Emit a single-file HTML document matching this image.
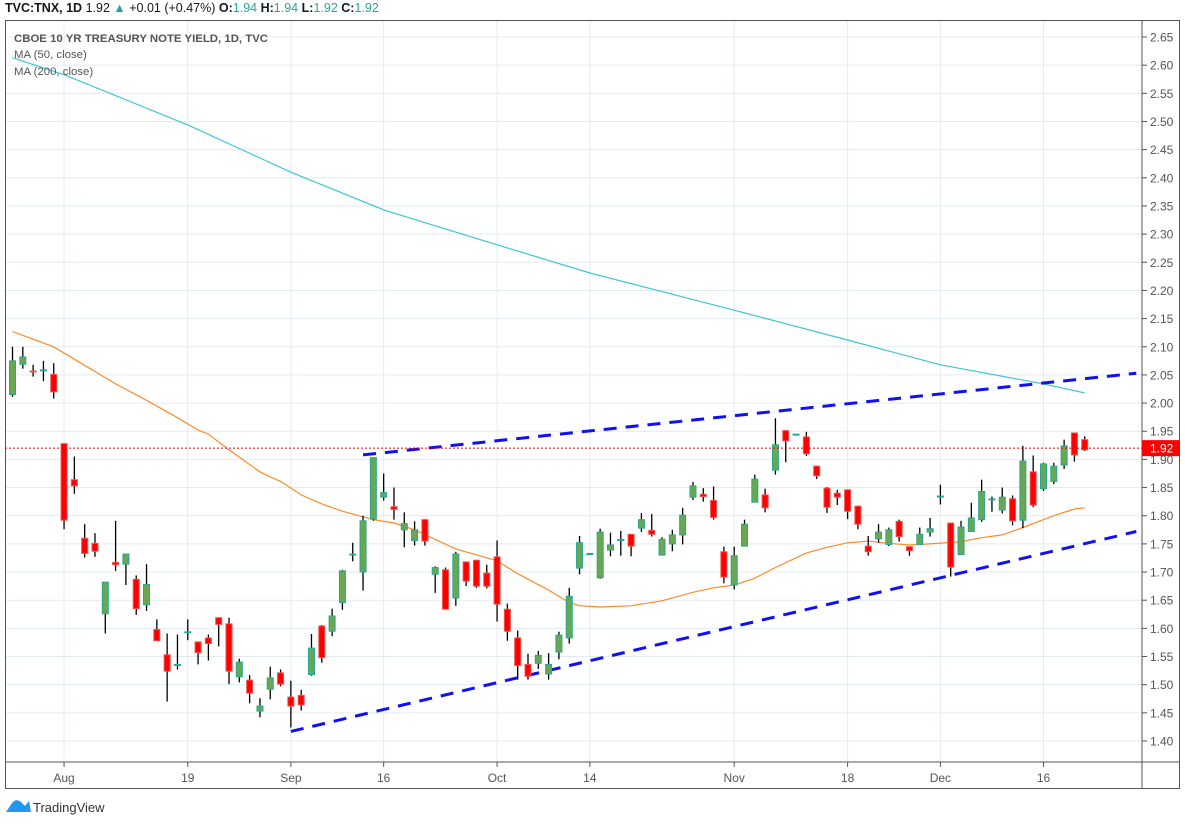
<!DOCTYPE html>
<html><head><meta charset="utf-8"><style>
body{margin:0;background:#fff;}
svg{display:block;font-family:"Liberation Sans",sans-serif;}
</style></head><body>
<svg id="chart" width="1185" height="824" viewBox="0 0 1185 824">
  <g id="grid"></g>
  <g id="mas"></g>
  <g id="trend"></g>
  <g id="candles"></g>
  <g id="axes"></g>
  <g>
    <text x="5" y="12" font-size="12.5" fill="#131722"><tspan font-weight="bold">TVC:TNX, 1D</tspan> 1.92 <tspan fill="#26a69a">▲</tspan> +0.01 (+0.47%) <tspan font-weight="bold">O:</tspan><tspan fill="#26a69a">1.94</tspan> <tspan font-weight="bold">H:</tspan><tspan fill="#26a69a">1.94</tspan> <tspan font-weight="bold">L:</tspan><tspan fill="#26a69a">1.92</tspan> <tspan font-weight="bold">C:</tspan><tspan fill="#26a69a">1.92</tspan></text>
  </g>
  <g>
    <text x="14" y="42" font-size="11.4" font-weight="bold" fill="#555">CBOE 10 YR TREASURY NOTE YIELD, 1D, TVC</text>
    <text x="14" y="58" font-size="11.4" fill="#555">MA (50, close)</text>
    <text x="14" y="75" font-size="11.4" fill="#555">MA (200, close)</text>
  </g>
  <g>
    <path d="M6 812 L12 803 Q16 798 21 802 L25 806 L29 801 L31 812 Z" fill="#2196f3"/>
    <text x="33" y="812" font-size="13" fill="#333">TradingView</text>
  </g>
</svg>
<script>
const openV=[2.015,2.069,2.057,2.058,2.051,1.928,1.864,1.760,1.751,1.626,1.717,1.714,1.687,1.642,1.598,1.553,1.535,1.593,1.576,1.583,1.619,1.608,1.514,1.508,1.453,1.492,1.521,1.478,1.481,1.518,1.604,1.595,1.646,1.731,1.700,1.794,1.833,1.816,1.775,1.756,1.793,1.696,1.704,1.654,1.718,1.721,1.698,1.727,1.634,1.583,1.536,1.538,1.519,1.558,1.583,1.707,1.732,1.690,1.739,1.757,1.767,1.778,1.774,1.730,1.750,1.766,1.833,1.838,1.827,1.736,1.677,1.746,1.824,1.837,1.881,1.951,1.944,1.940,1.888,1.849,1.840,1.846,1.817,1.746,1.759,1.749,1.790,1.745,1.749,1.771,1.834,1.787,1.731,1.772,1.793,1.829,1.810,1.830,1.792,1.878,1.848,1.861,1.890,1.947,1.935];
const highV=[2.10,2.10,2.068,2.075,2.071,1.928,1.905,1.785,1.769,1.682,1.791,1.732,1.694,1.714,1.616,1.591,1.589,1.616,1.576,1.589,1.619,1.619,1.546,1.517,1.476,1.532,1.527,1.507,1.491,1.590,1.606,1.635,1.704,1.752,1.800,1.903,1.875,1.850,1.806,1.790,1.794,1.710,1.708,1.736,1.718,1.721,1.713,1.756,1.644,1.596,1.555,1.560,1.556,1.594,1.672,1.764,1.733,1.777,1.770,1.773,1.767,1.805,1.803,1.762,1.775,1.814,1.860,1.849,1.852,1.745,1.745,1.793,1.873,1.848,1.973,1.952,1.945,1.949,1.889,1.851,1.846,1.846,1.817,1.764,1.785,1.779,1.793,1.745,1.779,1.796,1.855,1.787,1.791,1.823,1.864,1.834,1.850,1.836,1.924,1.907,1.894,1.894,1.935,1.947,1.941];
const lowV=[2.011,2.061,2.047,2.039,2.008,1.776,1.839,1.726,1.727,1.591,1.702,1.677,1.624,1.631,1.578,1.470,1.527,1.579,1.536,1.543,1.568,1.501,1.504,1.467,1.442,1.474,1.497,1.424,1.454,1.516,1.539,1.586,1.633,1.719,1.667,1.791,1.827,1.793,1.744,1.747,1.747,1.663,1.634,1.640,1.675,1.672,1.671,1.612,1.578,1.509,1.509,1.528,1.509,1.545,1.573,1.696,1.731,1.688,1.728,1.729,1.728,1.771,1.763,1.730,1.737,1.749,1.828,1.825,1.793,1.680,1.669,1.746,1.824,1.806,1.873,1.895,1.943,1.906,1.865,1.805,1.819,1.794,1.776,1.729,1.752,1.746,1.754,1.729,1.749,1.763,1.820,1.692,1.731,1.772,1.789,1.807,1.804,1.783,1.778,1.815,1.844,1.856,1.883,1.896,1.915];
const closeV=[2.075,2.082,2.055,2.058,2.020,1.792,1.853,1.733,1.737,1.682,1.713,1.732,1.635,1.678,1.578,1.524,1.535,1.593,1.557,1.573,1.607,1.524,1.540,1.485,1.462,1.512,1.501,1.462,1.464,1.565,1.548,1.622,1.702,1.731,1.791,1.903,1.841,1.811,1.786,1.775,1.755,1.708,1.634,1.732,1.684,1.675,1.675,1.643,1.595,1.534,1.515,1.552,1.536,1.588,1.657,1.752,1.732,1.771,1.748,1.757,1.746,1.793,1.767,1.758,1.766,1.801,1.853,1.834,1.797,1.691,1.729,1.785,1.865,1.814,1.926,1.933,1.944,1.910,1.871,1.815,1.833,1.808,1.785,1.736,1.771,1.775,1.763,1.738,1.767,1.777,1.834,1.709,1.780,1.796,1.843,1.829,1.833,1.791,1.897,1.819,1.892,1.888,1.924,1.908,1.917];
const ma50Idx=[0,4,6,10,13,16,18,19,21,24,25,26,28,30,32,35,37,39,43,47,49,52,54,55,57,60,63,66,68,70,72,74,77,79,81,83,85,87,89,92,94,96,98,101,103,104];
const ma50Val=[2.127,2.10,2.078,2.034,2.005,1.974,1.952,1.945,1.917,1.878,1.869,1.861,1.837,1.821,1.808,1.793,1.787,1.775,1.741,1.720,1.697,1.668,1.646,1.640,1.638,1.640,1.649,1.664,1.672,1.677,1.689,1.708,1.734,1.744,1.752,1.755,1.751,1.748,1.750,1.754,1.761,1.766,1.779,1.800,1.812,1.814];
const ma200Idx=[0,5,17,27,36,47,56,70,81,90,100,104];
const ma200Val=[2.613,2.583,2.494,2.410,2.343,2.281,2.231,2.165,2.112,2.068,2.034,2.018];
const trendIdx=[[34,109],[27,109]];
const trendVal=[[1.908,2.053],[1.417,1.772]];
const yTicks=[1.40,1.45,1.50,1.55,1.60,1.65,1.70,1.75,1.80,1.85,1.90,1.95,2.00,2.05,2.10,2.15,2.20,2.25,2.30,2.35,2.40,2.45,2.50,2.55,2.60,2.65];
const xTickIdx=[5,17,27,36,47,56,70,81,90,100];
const xTickLabels=["Aug","19","Sep","16","Oct","14","Nov","18","Dec","16"];
const lastPrice=1.92;

const NS="http://www.w3.org/2000/svg";
const PL=5,PR=1142,PT=20,PB=762;
function xs(i){return 12.5+i*10.31;}
function ys(p){return 37+(2.65-p)*563.2;}
function mk(tag,attrs,parent){const e=document.createElementNS(NS,tag);for(const k in attrs)e.setAttribute(k,attrs[k]);parent.appendChild(e);return e;}
const grid=document.getElementById('grid'),axes=document.getElementById('axes'),cg=document.getElementById('candles'),mg=document.getElementById('mas'),tg=document.getElementById('trend');

yTicks.forEach(v=>{const y=ys(v);
  const l=mk('line',{x1:PL,x2:PR,y1:y,y2:y,stroke:'#e1ecf2','stroke-width':1},grid);
  
  
  const tk=mk('line',{x1:PR,x2:PR+5,y1:y,y2:y,stroke:'#555'},axes);
  
  
  const t=mk('text',{x:PR+8,y:y+4.5,'font-size':12,fill:'#555'},axes);t.textContent=v.toFixed(2);
  
  
});
xTickIdx.forEach((idx,k)=>{const x=xs(idx);
  const l=mk('line',{x1:x,x2:x,y1:PT,y2:PB,stroke:'#e1ecf2'},grid);
  
  
  const tk=mk('line',{x1:x,x2:x,y1:PB,y2:PB+5,stroke:'#555'},axes);
  
  
  const t=mk('text',{x:x,y:782,'font-size':12,fill:'#555','text-anchor':'middle'},axes);t.textContent=xTickLabels[k];
  
  
});
const fr=mk('rect',{x:5.5,y:20.5,width:1174,height:768,fill:'none',stroke:'#555'},axes);


const va=mk('line',{x1:PR,x2:PR,y1:20,y2:789,stroke:'#555'},axes);


const ha=mk('line',{x1:5,x2:1180,y1:PB,y2:PB,stroke:'#555'},axes);



function poly(idx,val,color,name){
  const pts=idx.map((i,k)=>xs(i).toFixed(1)+','+ys(val[k]).toFixed(1)).join(' ');
  const p=mk('polyline',{points:pts,fill:'none',stroke:color,'stroke-width':1.2},mg);
  
  
}
poly(ma200Idx,ma200Val,'#3ec6d6','ma200-line');
poly(ma50Idx,ma50Val,'#ff8a2a','ma50-line');

trendIdx.forEach((ti,k)=>{
  const l=mk('line',{x1:xs(ti[0]),y1:ys(trendVal[k][0]),x2:xs(ti[1]),y2:ys(trendVal[k][1]),stroke:'#1010f5','stroke-width':3,'stroke-dasharray':'13 9'},tg);
  
  
});

const lp=mk('line',{x1:PL,x2:PR,y1:ys(lastPrice),y2:ys(lastPrice),stroke:'#e00','stroke-width':1,'stroke-dasharray':'2 2'},axes);



for(let i=0;i<openV.length;i++){
  const x=xs(i),o=openV[i],c=closeV[i],up=c>=o;
  const g=mk('g',{},cg);
  
  
  mk('line',{x1:x,x2:x,y1:ys(highV[i]),y2:ys(lowV[i]),stroke:'#000','stroke-width':1.3},g);
  let top=ys(Math.max(o,c)),bot=ys(Math.min(o,c));
  if(bot-top<2){const m=(top+bot)/2;top=m-1;bot=m+1;
    mk('rect',{x:x-3.5,y:top,width:7,height:2,fill:up?'#26a69a':'#ef5350'},g);
  } else mk('rect',{x:x-3,y:top,width:6,height:bot-top,fill:up?'#6aa84f':'#ff0000',stroke:up?'#26a69a':'#ef5350','stroke-width':1},g);
}
const lb=mk('rect',{x:PR,y:ys(lastPrice)-8,width:38,height:16,fill:'#ff0000'},axes);


const lt=mk('text',{x:PR+8,y:ys(lastPrice)+4.5,'font-size':12,fill:'#fff'},axes);lt.textContent=lastPrice.toFixed(2);


</script>
</body></html>
